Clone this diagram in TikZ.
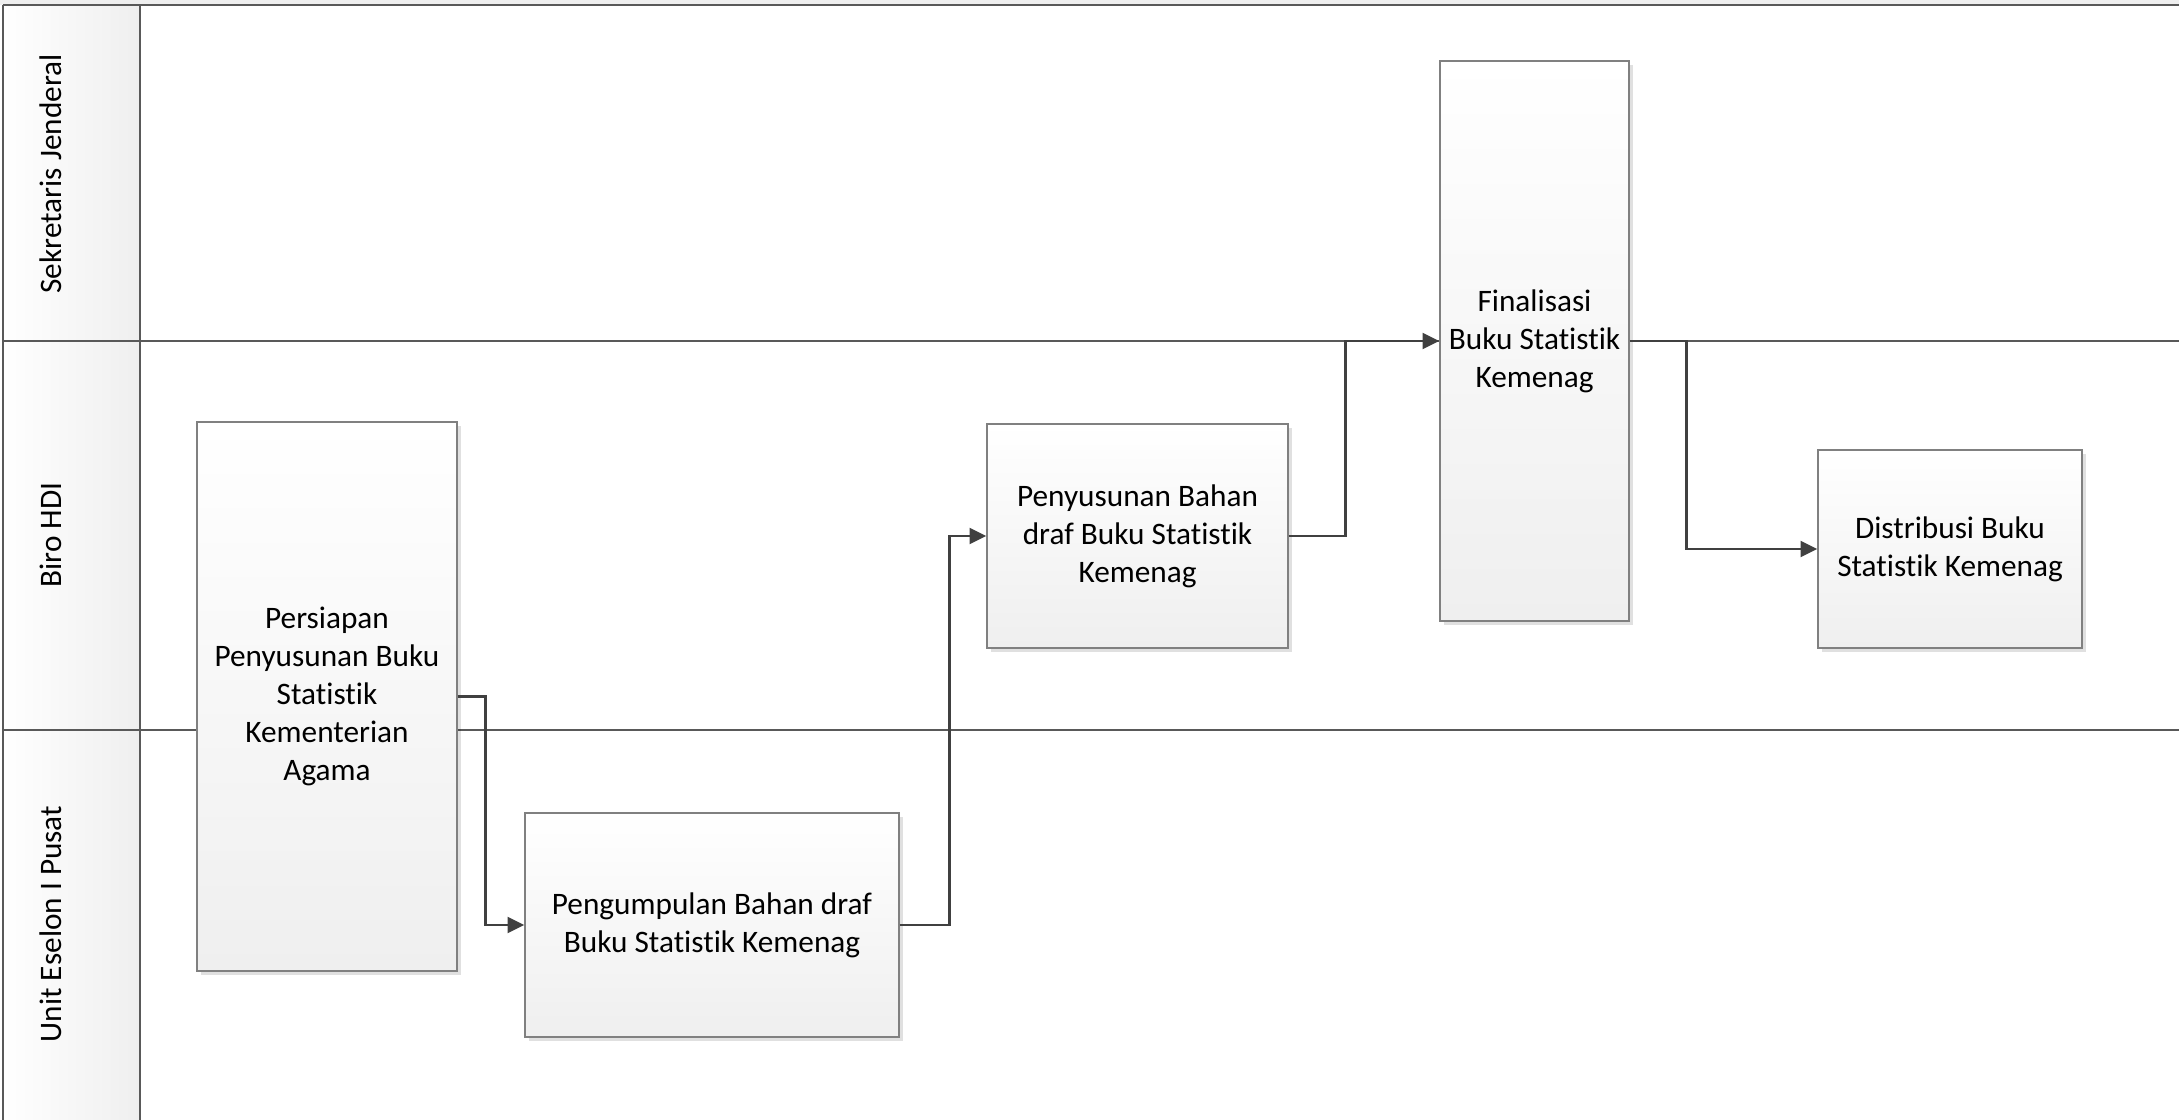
\documentclass[tikz,border=0pt]{standalone}
\usepackage{fontspec}
\setmainfont{Carlito}[Ligatures={NoCommon}]
\usepackage{tikz}
\usetikzlibrary{arrows.meta,shadows}
\definecolor{laneline}{HTML}{595959}
\definecolor{flowline}{HTML}{404040}
\definecolor{boxline}{HTML}{808080}
\definecolor{lanefill}{HTML}{EFEFEF}

\begin{document}
\begin{tikzpicture}[x=0.02cm,y=-0.02cm,
    font=\fontsize{17.8}{21.6}\selectfont,
    lane/.style={draw=laneline,line width=1.2pt},
    lanehead/.style={left color=white,right color=lanefill},
    lanelabel/.style={rotate=90,inner sep=0pt},
    proc/.style={draw=boxline,line width=0.8pt,top color=white,bottom color=lanefill,
      align=center,inner sep=0pt,
      drop shadow={shadow xshift=0.08cm,shadow yshift=-0.08cm,fill=black,opacity=0.12}},
    flow/.style={draw=flowline,line width=1.5pt,-{Triangle[length=9.5pt,width=9pt]}}]
    \useasboundingbox (0,0) rectangle (2179,1119);
    % pool and lanes
    \fill[lanefill] (0,0) rectangle (2179,5);
    \shade[lanehead] (3,5) rectangle (140,341);
    \shade[lanehead] (3,341) rectangle (140,730);
    \shade[lanehead] (3,730) rectangle (140,1122);
    \draw[lane] (3,5) -- (2179,5);
    \draw[lane] (3,341) -- (2179,341);
    \draw[lane] (3,730) -- (2179,730);
    \draw[lane] (3,5) -- (3,1122);
    \draw[lane] (140,5) -- (140,1122);
    \node[lanelabel] (lsekjen) at (51,174) {Sekretaris Jenderal};
    \node[lanelabel] (lbiro) at (51,535) {Biro HDI};
    \node[lanelabel] (lunit) at (51,924) {Unit Eselon I Pusat};
    % process steps
    \node[proc,minimum width=5.2cm,minimum height=10.98cm] (persiapan) at (327,696.5)
      {Persiapan\\Penyusunan Buku\\Statistik\\Kementerian\\Agama};
    \node[proc,minimum width=7.48cm,minimum height=4.48cm] (pengumpulan) at (712,925)
      {Pengumpulan Bahan draf\\Buku Statistik Kemenag};
    \node[proc,minimum width=6.02cm,minimum height=4.48cm] (penyusunan) at (1137.5,536)
      {Penyusunan Bahan\\draf Buku Statistik\\Kemenag};
    \node[proc,minimum width=3.78cm,minimum height=11.2cm] (finalisasi) at (1534.5,341)
      {Finalisasi\\Buku Statistik\\Kemenag};
    \node[proc,minimum width=5.28cm,minimum height=3.96cm] (distribusi) at (1950,549)
      {Distribusi Buku\\Statistik Kemenag};
    % flow
    \draw[flow] (persiapan.east) -- ++(28,0) |- (pengumpulan.west);
    \draw[flow] (pengumpulan.east) -- ++(50,0) |- (penyusunan.west);
    \draw[flow] (penyusunan.east) -- ++(57,0) |- (finalisasi.west);
    \draw[flow] (finalisasi.east) -- ++(57,0) |- (distribusi.west);
\end{tikzpicture}
\end{document}
